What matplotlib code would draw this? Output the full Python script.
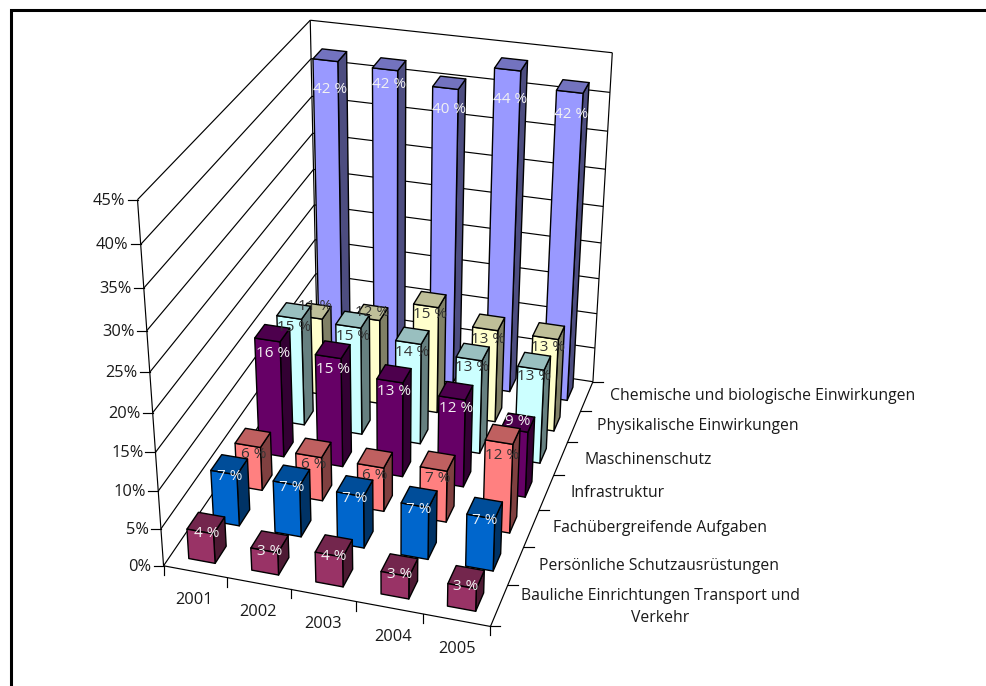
import numpy as np
import matplotlib
matplotlib.use("Agg")
import matplotlib.pyplot as plt
from matplotlib.lines import Line2D
from matplotlib.transforms import IdentityTransform
from mpl_toolkits.mplot3d.art3d import Line3DCollection

W, H = 986, 686
FONT = "Open Sans"
plt.rcParams["font.family"] = [FONT, "DejaVu Sans"]

years = ["2001", "2002", "2003", "2004", "2005"]
bauliche = [4, 3, 4, 3, 3]
schutzausruestungen = [7, 7, 7, 7, 7]
fachuebergreifend = [6, 6, 6, 7, 12]
infrastruktur = [16, 15, 13, 12, 9]
maschinenschutz = [15, 15, 14, 13, 13]
physikalisch = [11, 12, 15, 13, 13]
chemisch = [42.3, 42, 40.5, 43.7, 41.8]
series_values = [bauliche, schutzausruestungen, fachuebergreifend, infrastruktur,
                 maschinenschutz, physikalisch, chemisch]
series_colors = ["#993366", "#0066CC", "#FF8080", "#660066", "#CCFFFF", "#FFFFCC", "#9999FF"]
label_colors = ["#F2F2F2", "#E8F0F8", "#333333", "#F2F2F2", "#333333", "#333333", "#F2F2F2"]
label_shift = [0, 0, -0.8, -0.3, 0, 0, 0]
label_cell_shift = {(3, 4): 2.2, (5, 0): 2.6, (5, 1): 2.0, (5, 2): 0.2, (5, 3): -0.2, (5, 4): -0.2,
                    (6, 0): 0.4, (6, 1): 2.2, (6, 2): 1.2, (6, 3): 0.5, (6, 4): 1.2}
z_ticks = [0, 5, 10, 15, 20, 25, 30, 35, 40, 45]
series_labels = [
    ("Bauliche Einrichtungen Transport und\nVerkehr", 660, 607, "center"),
    ("Persönliche Schutzausrüstungen", 539, 566, "left"),
    ("Fachübergreifende Aufgaben", 553, 528, "left"),
    ("Infrastruktur", 570, 493, "left"),
    ("Maschinenschutz", 584, 460, "left"),
    ("Physikalische Einwirkungen", 597, 426, "left"),
    ("Chemische und biologische Einwirkungen", 610, 396, "left"),
]
year_label_pos = [(194, 600), (258, 612), (323, 624), (393, 637), (457, 649)]

nx, ny, zmax = len(years), len(series_values), z_ticks[-1]

# camera calibration: box corners -> picture pixels
corners = [((0, 0, 0), (163.5, 565)), ((nx, 0, 0), (490.7, 627)), ((nx, ny, 0), (593, 381)),
           ((0, ny, 0), (317, 341)), ((0, 0, zmax), (137.3, 200)),
           ((0, ny, zmax), (310.7, 19.7)), ((nx, ny, zmax), (612, 53))]
A = []
for (X, Y, Z), (u, v) in corners:
    v = H - v
    A.append([X, Y, Z, 1, 0, 0, 0, 0, -u * X, -u * Y, -u * Z, -u])
    A.append([0, 0, 0, 0, X, Y, Z, 1, -v * X, -v * Y, -v * Z, -v])
P = np.linalg.svd(np.array(A, float))[2][-1].reshape(3, 4)
P = P / (P[2] @ np.array([nx / 2, ny / 2, 0, 1]))
M = np.vstack([P[0], P[1], P[2] - np.array([0, 0, 0, 0.5]), P[2]])


def project(x, y, z):
    p = P @ np.array([x, y, z, 1.0])
    return p[0] / p[2], H - p[1] / p[2]


fig = plt.figure(figsize=(W / 100, H / 100), dpi=100, facecolor="white")
ax = fig.add_axes([0, 0, 1, 1], projection="3d", computed_zorder=False)
ax.set_axis_off()
ax.set_xticks([])
ax.set_yticks([])
ax.set_zticks([])
ax.get_proj = lambda: M
ax.apply_aspect = lambda position=None: None
ax._viewLim.intervalx = (0, W)
ax._viewLim.intervaly = (0, H)
ax.patch.set_visible(False)
ident = IdentityTransform()

# walls and floor
LW = 0.85
segments = []
for z in z_ticks:
    segments.append([(0, 0, z), (0, ny, z)])
    segments.append([(0, ny, z), (nx, ny, z)])
for x_, y_ in [(0, 0), (0, ny), (nx, ny)]:
    segments.append([(x_, y_, 0), (x_, y_, zmax)])
segments.append([(0, 0, 0), (nx, 0, 0)])
segments.append([(nx, 0, 0), (nx, ny, 0)])
ax.add_collection3d(Line3DCollection(segments, colors="black", linewidths=LW, zorder=1))

# bars (face order in bar3d: bottom, top, -y, +y, -x, +x)
bw, bd = 0.42, 0.45
hidden = (0, 0, 0, 0)
for j in range(ny - 1, -1, -1):
    rgb = np.array(matplotlib.colors.to_rgb(series_colors[j]))
    front, top, side = tuple(rgb) + (1,), tuple(rgb * .75) + (1,), tuple(rgb * .5) + (1,)
    faces = [hidden, top, front, hidden, hidden, side]
    black = (0, 0, 0, 1)
    edges = [hidden, black, black, hidden, hidden, black]
    for i, v in enumerate(series_values[j]):
        c = ax.bar3d(i + .5 - bw / 2, j + .5 - bd / 2, 0, bw, bd, v, color=faces,
                     edgecolor=edges, linewidth=1.0, shade=False)
        c.set_zorder(10 + (ny - j) * 10 + i)
        dz = label_shift[j] + label_cell_shift.get((j, i), 0)
        px, py = project(i + .5, j + .5, v * 0.91 - 1 + dz)
        fig.text(px, H - py, f"{round(v)} %", transform=ident, color=label_colors[j], fontsize=11,
                 ha="center", va="center", zorder=5 + (ny - j) * 0.1)


def seg(x0, y0, x1, y1):
    fig.add_artist(Line2D([x0, x1], [H - y0, H - y1], color="black", lw=LW, transform=ident))


def label(x, y, s, ha="center", size=11.3, **kw):
    fig.text(x, H - y, s, transform=ident, ha=ha, va="center", fontsize=size, color="#1a1a1a",
             linespacing=1.5, **kw)


for z in z_ticks:
    x, y = project(0, 0, z)
    seg(x - 10, y, x, y)
    label(x - 12, y + 1, f"{z}%", ha="right", size=11.8)
for i in range(nx + 1):
    x, y = project(i, 0, 0)
    seg(x, y, x, y + 9)
for j in range(ny + 1):
    x, y = project(nx, j, 0)
    seg(x, y, x + 10, y)
for name, (x, y) in zip(years, year_label_pos):
    label(x, y, name, size=11.8)
for text, x, y, ha in series_labels:
    label(x, y, text, ha=ha, multialignment="center")

# outer frame, cut by the picture edge
fig.add_artist(Line2D([11, 11, W], [0, H - 10, H - 10], color="black", lw=2.2, transform=ident,
                      solid_joinstyle="miter"))

fig.savefig("out.png", dpi=100)
